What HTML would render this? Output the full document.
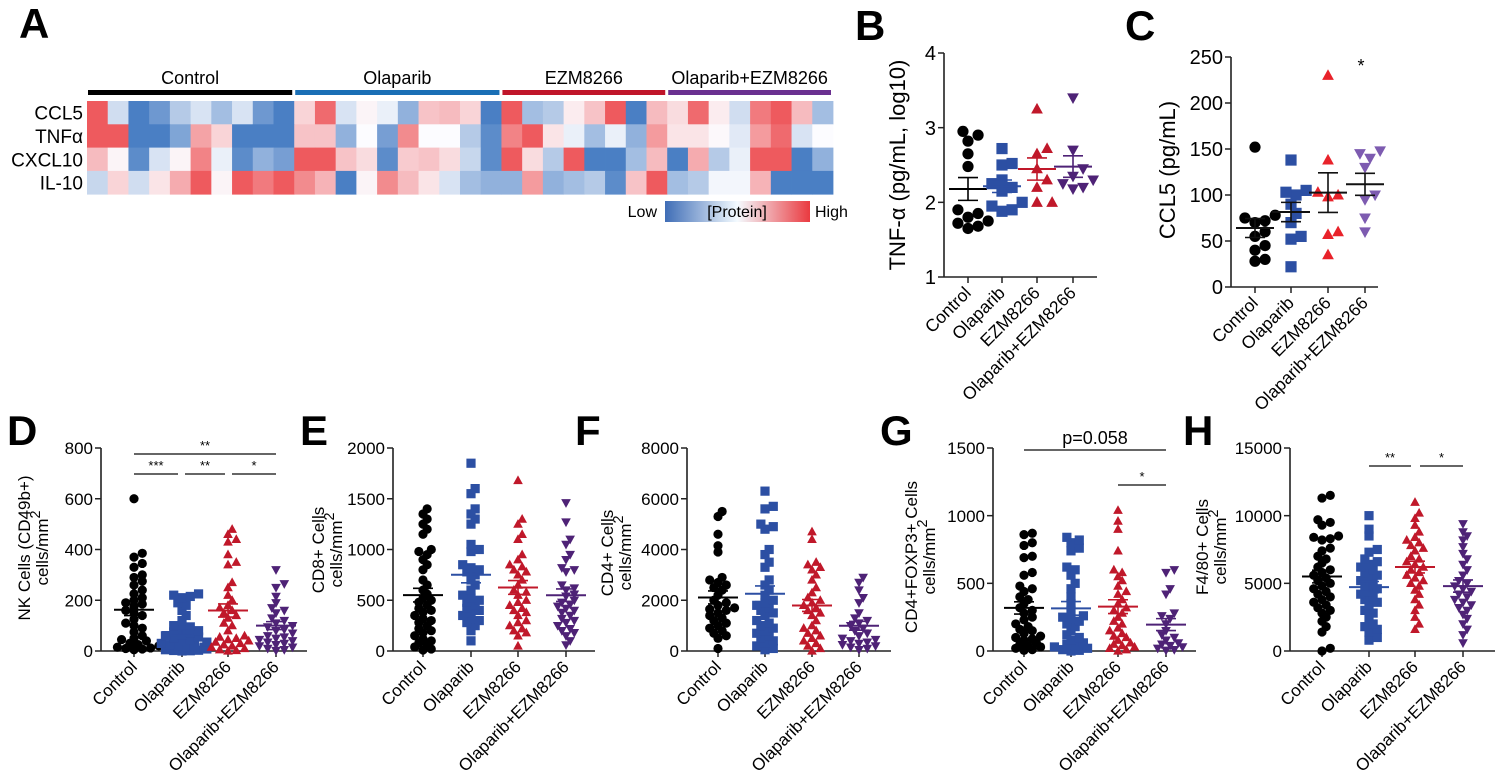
<!DOCTYPE html>
<html><head><meta charset="utf-8">
<style>
html,body{margin:0;padding:0;background:#fff;}
svg{display:block;font-family:"Liberation Sans",Arial,sans-serif;}
</style></head>
<body>
<svg id="fig" width="1500" height="783" viewBox="0 0 1500 783" xmlns="http://www.w3.org/2000/svg">
<g id="root"></g>
</svg>
<script>
// ---------- DATA ----------
const groups = ["Control","Olaparib","EZM8266","Olaparib+EZM8266"];
const heatRows = ["CCL5","TNF\u03b1","CXCL10","IL-10"];
const heatGroupSizes = [10,10,8,8];
const heatCCL5 = [2,-0.5,-2,-1.6,-0.8,-0.4,-1,-0.4,-1.6,-2, 0.5,1.8,-0.4,0.1,-0.2,-1.2,0.7,0.8,0.5,-2, 2,-1,-0.8,0.2,0.7,2,-2,0.8, 0.4,1.8,0.2,-0.5,1.6,2,0.8,-1];
const heatTNF = [2,2,-2,-2,-1.4,1.1,0.5,-2,-2,-2, 0.7,0.7,-1.2,0,-1.5,1.4,0,0,-0.8,-1.8, 1.5,2,0.3,-0.2,-1,-0.2,-1.2,1.2, 0.3,0.3,0.05,-0.3,1.2,1.8,-0.4,0];
const heatCXCL10 = [0.8,0.1,-1.8,-0.4,0.1,1.5,-0.2,-1.8,-1.2,-1.5, 2,2,0.7,0.4,-1.8,0.6,0.7,0.4,-0.6,-1.8, 2,0.4,-0.8,2,-2,-2,-1,0.8, -2,1,-0.8,-0.2,2,2,-2,-1.2];
const heatIL10 = [-0.6,0.5,-0.5,0.3,1,2,0.1,2,1.6,2, 1.4,0.9,-2,0.1,1.4,0.8,0.3,-0.4,-1,-1.2, -1.2,1.2,-1.2,-1,-0.8,-1.8,0.7,2, -1,-0.8,-0.1,-0.1,0.9,-2,-2,-2];

const bCtrl=[2.95,2.9,2.82,2.65,2.48,1.9,1.85,1.8,1.75,1.72,1.68,1.65];
const bOla=[2.72,2.52,2.5,2.3,2.25,2.2,2.15,2.0,1.95,1.9,1.88];
const bEzm=[3.25,2.72,2.65,2.45,2.3,2.2,2.0,2.0];
const bCombo=[3.4,2.7,2.45,2.35,2.3,2.25,2.2,2.18];
const bTicks=[1,2,3,4];

const cCtrl=[152,78,75,72,70,60,55,45,40,30,28];
const cOla=[138,105,103,100,90,80,70,55,52,22];
const cEzm=[230,138,103,100,98,60,57,35];
const cCombo=[148,145,140,130,100,95,75,60];
const cTicks=[0,50,100,150,200,250];

const dCtrl=[600,385,370,345,330,300,290,275,260,240,225,210,200,190,185,175,160,150,140,125,110,100,90,75,60,50,45,40,30,25,20,15,12,10,8,5];
const dOla=[225,220,215,210,190,180,160,140,120,100,95,90,80,75,70,65,60,55,50,45,40,35,30,25,22,20,18,15,12,10,8,5,3,2,1,0];
const dEzm=[480,460,440,430,380,350,340,270,250,220,200,180,170,160,150,140,130,110,100,80,60,55,50,45,40,35,30,25,20,15,10,5,2,0];
const dCombo=[320,265,250,215,190,170,160,150,130,120,110,100,95,85,80,70,60,55,50,45,40,35,30,25,20,15,10,5,2];
const dTicks=[0,200,400,600,800];

const eCtrl=[1400,1350,1300,1250,1200,1150,1000,980,950,900,850,800,700,650,600,560,520,500,480,450,420,400,380,350,320,300,280,250,220,200,180,150,120,100,80,60,40,20,10];
const eOla=[1850,1600,1550,1400,1350,1300,1250,1050,1000,980,850,820,800,780,750,700,650,600,550,520,500,480,450,420,400,380,350,320,300,280,250,200,100];
const eEzm=[1680,1300,1250,1150,1100,950,900,850,830,800,780,750,700,650,600,580,550,500,480,450,420,400,380,350,300,280,250,220,200,180,150,50];
const eCombo=[1460,1270,1100,1050,950,900,820,800,780,650,620,600,560,540,500,480,460,440,420,400,380,350,320,300,280,250,220,200,180,150,100,60];
const eTicks=[0,500,1000,1500,2000];

const fCtrl=[5500,5300,4600,4150,3900,2900,2800,2700,2600,2500,2400,2200,2000,1900,1800,1700,1650,1600,1500,1400,1300,1200,1100,1000,900,800,700,600,500,100];
const fOla=[6300,5700,5600,5000,4900,4800,4000,3800,3500,3300,2800,2600,2400,2200,2000,1900,1800,1700,1600,1500,1400,1200,1100,1000,900,800,700,600,500,400,300,200,100,50];
const fEzm=[4700,4400,3500,3400,3300,3200,3000,2800,2500,2300,2100,2000,1900,1800,1700,1600,1500,1400,1200,1000,900,800,700,600,500,400,300,200,100,0];
const fCombo=[2900,2700,2400,2100,1900,1500,1300,1200,1100,1000,900,800,700,600,500,450,400,350,300,250,200,150,100,50];
const fTicks=[0,2000,4000,6000,8000];

const gCtrl=[870,860,800,780,700,690,580,560,480,460,440,400,380,350,320,300,280,250,230,200,180,160,150,130,110,100,90,80,60,50,40,30,20,10,5];
const gOla=[840,820,800,760,740,620,600,560,500,460,400,350,300,260,250,240,220,200,180,150,120,100,80,60,50,40,30,20,10,5,0];
const gEzm=[1040,960,900,740,600,580,550,520,480,440,420,380,350,320,300,280,250,220,200,170,150,130,110,100,80,60,50,40,30,20,10,0];
const gCombo=[600,580,460,420,280,260,240,200,150,120,100,80,60,50,40,30,20,10,5];
const gTicks=[0,500,1000,1500];

const hCtrl=[11500,11300,9700,9500,9300,8500,8400,8300,8200,7600,7400,7000,6800,6500,6200,6000,5800,5600,5400,5200,5000,4800,4600,4400,4200,4000,3800,3600,3400,3200,3000,2800,2500,2200,1800,1400,200,0];
const hOla=[10000,9000,8500,7500,7300,6800,6600,6400,6200,6000,5800,5600,5400,5200,5000,4800,4600,4400,4200,4000,3800,3600,3400,3000,2800,2400,2000,1800,1600,1400,1000,800];
const hEzm=[11000,10200,9800,9300,8800,8400,8200,8000,7800,7600,7400,7000,6800,6600,6400,6200,6000,5800,5600,5400,5200,5000,4800,4500,4200,3800,3400,3000,2500,2000,1600];
const hCombo=[9400,8800,8500,8200,7700,7200,6800,6400,6000,5600,5200,5000,4800,4600,4400,4200,4000,3800,3600,3400,3200,3000,2700,2400,2000,1600,1200,600];
const hTicks=[0,5000,10000,15000];

// ---------- HELPERS ----------
const NS="http://www.w3.org/2000/svg";
const root=document.getElementById('root');
function mk(tag,attrs,parent){const e=document.createElementNS(NS,tag);for(const k in attrs)e.setAttribute(k,attrs[k]);(parent||root).appendChild(e);return e;}
function txt(s,attrs,parent){const e=mk('text',attrs,parent);e.textContent=s;return e;}
function lerp(a,b,t){return Math.round(a+(b-a)*t);}
function heatColor(v){
  const t=Math.max(-1,Math.min(1,v/2));
  const W=[252,252,255],B=[74,127,196],R=[238,90,94];
  const c=t<0?B:R, a=Math.abs(t);
  return `rgb(${lerp(W[0],c[0],a)},${lerp(W[1],c[1],a)},${lerp(W[2],c[2],a)})`;
}
const grpColorsDark=["#000000","#2c4fa3","#c0182a","#4e2276"];
const grpColorsTopC=["#000000","#2c4fa3","#e8222a","#7d5bb0"];

// ---------- PANEL A: HEATMAP ----------
(function(){
  const g=mk('g',{});
  
  
  const L=txt('A',{x:19,y:38,'font-size':42,'font-weight':'bold'},g);
  
  
  const x0=87,x1=833,y0=101,rowH=23.3;
  const ncol=heatCCL5.length, cw=(x1-x0)/ncol;
  const rows=[heatCCL5,heatTNF,heatCXCL10,heatIL10];
  rows.forEach((r,ri)=>{
    const lab=txt(heatRows[ri],{x:83,y:y0+ri*rowH+rowH/2+7,'font-size':19,'text-anchor':'end'},g);
    
    
    r.forEach((v,ci)=>{
      const c=mk('rect',{x:x0+ci*cw,y:y0+ri*rowH,width:cw+0.4,height:rowH+0.4,fill:heatColor(v)},g);
      
      
    });
  });
  const barColors=["#000000","#1a6fb5","#c0152a","#6a3090"];
  let start=0;
  heatGroupSizes.forEach((n,gi)=>{
    const a=x0+start*cw+1, b=x0+(start+n)*cw-2;
    const br=mk('rect',{x:a,y:90,width:b-a,height:5,fill:barColors[gi]},g);
    
    
    const t=txt(groups[gi],{x:(a+b)/2,y:84,'font-size':18,'text-anchor':'middle'},g);
    
    
    start+=n;
  });
  const defs=mk('defs',{},g);
  const lg=mk('linearGradient',{id:'cb',x1:0,x2:1,y1:0,y2:0},defs);
  mk('stop',{offset:'0','stop-color':'#3f6db6'},lg);
  mk('stop',{offset:'0.5','stop-color':'#f4fbff'},lg);
  mk('stop',{offset:'1','stop-color':'#ea3a40'},lg);
  const cb=mk('rect',{x:665,y:201,width:145,height:21,fill:'url(#cb)'},g);
  
  
  const lo=txt('Low',{x:657,y:217,'font-size':16,'text-anchor':'end'},g);
  
  
  const pr=txt('[Protein]',{x:737,y:217,'font-size':16,'text-anchor':'middle'},g);
  
  
  const hi=txt('High',{x:815,y:217,'font-size':16},g);
  
  
})();

// ---------- SCATTER PANELS ----------
function drawMarker(g,shape,x,y,r,color){
  let e;
  if(shape==='circle') e=mk('circle',{cx:x,cy:y,r:r,fill:color},g);
  else if(shape==='square') e=mk('rect',{x:x-r,y:y-r,width:2*r,height:2*r,fill:color},g);
  else if(shape==='tri') e=mk('polygon',{points:`${x},${y-r*1.1} ${x-r*1.05},${y+r*0.8} ${x+r*1.05},${y+r*0.8}`,fill:color},g);
  else e=mk('polygon',{points:`${x},${y+r*1.1} ${x-r*1.05},${y-r*0.8} ${x+r*1.05},${y-r*0.8}`,fill:color},g);
  
  
}
const shapes=['circle','square','tri','down'];

function panel(o){
  const g=mk('g',{});
  
  
  const yS=v=>o.yBot-(v-o.yMin)/(o.yMax-o.yMin)*(o.yBot-o.yTop);
  const L=txt(o.letter,{x:o.letterX,y:o.letterY,'font-size':42,'font-weight':'bold'},g);
  
  
  const ya=mk('line',{x1:o.axX,x2:o.axX,y1:o.yTop,y2:o.yBot,stroke:'#222','stroke-width':1.6},g);
  
  
  const xa=mk('line',{x1:o.axX,x2:o.axEnd,y1:o.yBot,y2:o.yBot,stroke:'#222','stroke-width':1.6},g);
  
  
  o.ticks.forEach(t=>{
    const y=yS(t);
    mk('line',{x1:o.axX-6,x2:o.axX,y1:y,y2:y,stroke:'#222','stroke-width':1.5},g);
    const tl=txt(String(t),{x:o.axX-8,y:y+o.tickFont*0.36,'font-size':o.tickFont,'text-anchor':'end'},g);
    
    
  });
  const yl=mk('text',{transform:`translate(${o.ylX},${o.ylY}) rotate(-90)`,'font-size':o.ylFont,'text-anchor':'middle'},g);
  
  
  if(o.yl2){
    const t1=mk('tspan',{x:0,dy:0},yl);t1.textContent=o.yl1;
    const t2=mk('tspan',{x:0,dy:o.ylFont*1.05},yl);t2.textContent=o.yl2;
    const t3=mk('tspan',{dy:-o.ylFont*0.45,'font-size':o.ylFont*0.85},yl);t3.textContent='2';
  } else yl.textContent=o.yl1;
  o.data.forEach((vals,gi)=>{
    const cx=o.cats[gi];
    mk('line',{x1:cx,x2:cx,y1:o.yBot,y2:o.yBot+6,stroke:'#222','stroke-width':1.5},g);
    const cl=txt(groups[gi],{transform:`translate(${cx+4},${o.yBot+o.labOff}) rotate(-45)`,'font-size':o.catFont,'text-anchor':'end'},g);
    
    
    const sorted=vals.slice().sort((a,b)=>a-b);
    const placed=[];
    const d=o.r*2*o.pack;
    sorted.forEach(v=>{
      const y=yS(v);
      let x=cx;
      for(let k=0;k<40;k++){
        const off=(k===0?0:Math.ceil(k/2)*(k%2?1:-1))*o.r*0.9;
        const xx=cx+off;
        if(placed.every(p=>(p[0]-xx)**2+(p[1]-y)**2>=d*d)){x=xx;break;}
        if(Math.abs(off)>o.maxSpread){x=cx+(k%2?1:-1)*o.maxSpread;break;}
      }
      placed.push([x,y]);
      drawMarker(g,shapes[gi],x,y,o.r,o.colors[gi]);
    });
    const n=vals.length, mean=vals.reduce((a,b)=>a+b,0)/n;
    const sd=Math.sqrt(vals.reduce((a,b)=>a+(b-mean)**2,0)/(n-1)), sem=sd/Math.sqrt(n);
    const lc=o.meanColor?o.meanColor:o.colors[gi];
    const ml=mk('line',{x1:cx-o.meanW,x2:cx+o.meanW,y1:yS(mean),y2:yS(mean),stroke:lc,'stroke-width':2},g);
    
    
    mk('line',{x1:cx,x2:cx,y1:yS(mean+sem),y2:yS(mean-sem),stroke:lc,'stroke-width':1.6},g);
    mk('line',{x1:cx-o.semW,x2:cx+o.semW,y1:yS(mean+sem),y2:yS(mean+sem),stroke:lc,'stroke-width':1.6},g);
    mk('line',{x1:cx-o.semW,x2:cx+o.semW,y1:yS(mean-sem),y2:yS(mean-sem),stroke:lc,'stroke-width':1.6},g);
  });
  (o.sig||[]).forEach(s=>{
    const sl=mk('line',{x1:s[0],x2:s[1],y1:s[2],y2:s[2],stroke:'#333','stroke-width':1.4},g);
    
    
    const st=txt(s[3],{x:(s[0]+s[1])/2,y:s[2]-(s[4]||4),'font-size':s[5]||13,'text-anchor':'middle'},g);
    
    
  });
}

const botCommon={yTop:448,yBot:651,tickFont:17,ylFont:17,catFont:17,labOff:17,r:4.6,pack:0.62,maxSpread:22,meanW:20,semW:10,colors:grpColorsDark,letterY:445};

panel(Object.assign({},{name:'tnf-panel-b',letter:'B',letterX:855,letterY:40,axX:944,axEnd:1097,yTop:53,yBot:277,yMin:1,yMax:4,ticks:bTicks,tickFont:20,
  ylX:905,ylY:165,ylFont:22,yl1:'TNF-\u03b1 (pg/mL, log10)',cats:[968,1002,1037,1073],catFont:17.5,labOff:17,
  data:[bCtrl,bOla,bEzm,bCombo],r:5.6,pack:0.9,maxSpread:16,meanW:19,semW:10,colors:grpColorsDark}));
panel(Object.assign({},{name:'ccl5-panel-c',letter:'C',letterX:1125,letterY:40,axX:1231,axEnd:1378,yTop:57,yBot:287,yMin:0,yMax:250,ticks:cTicks,tickFont:20,
  ylX:1175,ylY:170,ylFont:22,yl1:'CCL5 (pg/mL)',cats:[1255,1291,1328,1365],catFont:17.5,labOff:17,
  data:[cCtrl,cOla,cEzm,cCombo],r:5.6,pack:0.9,maxSpread:16,meanW:19,semW:10,colors:grpColorsTopC,meanColor:'#111'}));
const cs=txt('*',{x:1361,y:72,'font-size':18,'text-anchor':'middle'});



panel(Object.assign({},botCommon,{name:'nk-panel-d',letter:'D',letterX:7,axX:101,axEnd:307,yMin:0,yMax:800,ticks:dTicks,
  ylX:30,ylY:548,yl1:'NK Cells (CD49b+)',yl2:'cells/mm',cats:[134,182,228,276],data:[dCtrl,dOla,dEzm,dCombo],
  sig:[[134,276,454,'**'],[134,178,474,'***'],[185,225,474,'**'],[232,276,474,'*']]}));
panel(Object.assign({},botCommon,{name:'cd8-panel-e',letter:'E',letterX:300,axX:393,axEnd:595,yMin:0,yMax:2000,ticks:eTicks,
  ylX:324,ylY:550,yl1:'CD8+ Cells',yl2:'cells/mm',cats:[423,471,518,566],data:[eCtrl,eOla,eEzm,eCombo]}));
panel(Object.assign({},botCommon,{name:'cd4-panel-f',letter:'F',letterX:575,axX:687,axEnd:891,yMin:0,yMax:8000,ticks:fTicks,
  ylX:613,ylY:553,yl1:'CD4+ Cells',yl2:'cells/mm',cats:[718,765,812,859],data:[fCtrl,fOla,fEzm,fCombo]}));
panel(Object.assign({},botCommon,{name:'treg-panel-g',letter:'G',letterX:880,axX:993,axEnd:1196,yMin:0,yMax:1500,ticks:gTicks,
  ylX:917,ylY:557,yl1:'CD4+FOXP3+ Cells',yl2:'cells/mm',cats:[1024,1071,1118,1166],data:[gCtrl,gOla,gEzm,gCombo],
  sig:[[1024,1166,450,'p=0.058',6,18],[1118,1166,485,'*']]}));
panel(Object.assign({},botCommon,{name:'macrophage-panel-h',letter:'H',letterX:1183,axX:1290,axEnd:1495,yMin:0,yMax:15000,ticks:hTicks,
  ylX:1208,ylY:547,yl1:'F4/80+ Cells',yl2:'cells/mm',cats:[1322,1369,1415,1463],data:[hCtrl,hOla,hEzm,hCombo],
  sig:[[1369,1411,466,'**'],[1420,1463,466,'*']]}));
</script>
</body></html>
